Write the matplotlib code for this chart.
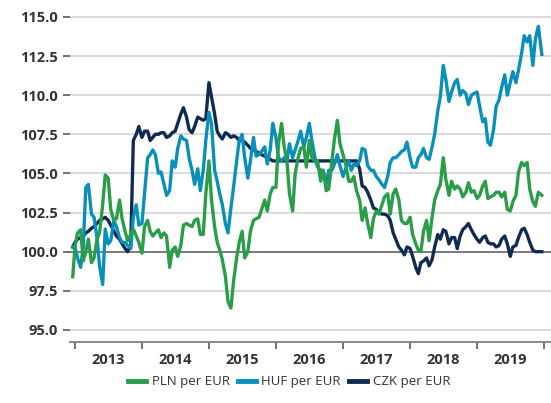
import numpy as np
import pandas as pd
import matplotlib
matplotlib.use("Agg")
import matplotlib.pyplot as plt
import matplotlib.dates as mdates
from matplotlib.ticker import NullFormatter, FixedLocator

# half-monthly readings (1st / 15th), index with start = 100
dates = [pd.Timestamp("2012-12-20")] + \
    list(pd.date_range("2013-01-01", "2019-12-01", freq="SMS")) + \
    [pd.Timestamp("2019-12-20")]

pln = [98.4,
       100.3, 101.2, 101.4, 99.4, 100.0, 100.8, 99.3, 99.6, 100.8, 101.2, 103.0, 104.9,
       104.7, 102.7, 102.0, 102.1, 103.3, 102.1, 101.3, 100.7, 101.1, 101.45, 101.0, 100.6,
       99.9, 101.6, 102.0, 101.3, 101.0, 101.2, 101.4, 100.9, 101.2, 101.0, 99.0, 100.1,
       100.3, 99.7, 100.4, 101.7, 101.8, 101.7, 101.6, 102.0, 102.1, 101.1, 101.1, 103.7,
       105.8, 103.3, 101.6, 100.6, 100.1, 99.5, 98.4, 96.8, 96.4, 98.1, 99.6, 100.6,
       101.3, 99.6, 100.0, 101.3, 102.0, 102.1, 102.2, 102.7, 103.3, 102.6, 103.7, 104.1,
       104.1, 106.9, 108.2, 106.7, 105.8, 103.7, 102.6, 105.0, 106.0, 106.6, 106.7, 105.4,
       107.1, 106.0, 105.8, 105.8, 104.5, 105.2, 103.9, 104.0, 105.8, 107.2, 108.4, 106.9,
       106.2, 105.6, 104.5, 104.5, 104.8, 103.9, 103.3, 102.0, 102.8, 101.8, 100.9, 102.1,
       102.6, 102.4, 103.0, 103.5, 103.7, 102.4, 103.7, 104.0, 103.3, 102.0, 101.8, 101.8,
       102.2, 101.1, 100.5, 100.1, 100.0, 101.3, 102.0, 100.7, 102.2, 103.3, 103.9, 104.3,
       106.0, 104.6, 103.6, 104.5, 104.0, 104.2, 104.0, 103.5, 103.8, 104.4, 103.8, 103.9,
       103.4, 103.6, 104.2, 104.5, 103.4, 103.5, 103.6, 103.8, 103.8, 103.5, 103.8, 102.7,
       102.6, 103.2, 103.6, 105.1, 105.7, 105.5, 105.7, 104.0, 103.2, 102.9, 103.8, 103.6]

huf = [100.3,
       100.3, 99.6, 99.0, 100.3, 104.1, 104.3, 102.4, 102.2, 100.9, 99.1, 97.9, 101.45,
       100.5, 100.7, 102.0, 101.6, 100.9, 100.6, 100.6, 100.4, 100.2, 102.2, 103.0, 101.7,
       101.8, 103.7, 106.0, 106.2, 106.5, 106.2, 105.0, 105.1, 104.3, 103.6, 103.9, 105.8,
       105.4, 106.6, 107.4, 107.2, 107.1, 106.0, 105.2, 104.3, 105.3, 103.9, 105.2, 107.1,
       108.9, 108.2, 105.2, 104.5, 103.7, 103.0, 101.8, 101.2, 102.8, 104.1, 105.8, 107.1,
       107.5, 106.0, 104.7, 105.8, 107.3, 106.1, 106.2, 106.4, 106.7, 105.6, 106.5, 108.2,
       107.3, 106.0, 105.8, 106.0, 105.8, 106.9, 106.0, 106.5, 107.1, 107.7, 106.7, 107.3,
       108.2, 107.1, 106.0, 105.4, 105.2, 105.2, 104.3, 105.2, 105.2, 105.6, 106.2, 105.5,
       104.8, 105.3, 105.8, 105.2, 105.6, 105.5, 105.8, 106.6, 106.5, 105.5, 105.2, 105.2,
       104.8, 104.6, 104.3, 104.1, 104.8, 105.7, 106.0, 106.0, 106.2, 106.4, 106.5, 107.0,
       106.0, 105.4, 105.4, 106.0, 106.2, 106.6, 106.0, 105.9, 106.7, 107.5, 109.0, 109.9,
       111.9, 111.0, 109.6, 110.2, 110.8, 111.0, 110.0, 110.3, 110.1, 109.4, 110.0, 110.1,
       110.2, 109.3, 108.3, 108.5, 107.0, 106.8, 107.8, 109.3, 109.7, 110.5, 111.3, 110.0,
       110.8, 111.5, 110.8, 111.6, 112.7, 113.8, 113.4, 113.8, 111.9, 113.6, 114.4, 112.6]

czk = [100.3,
       100.6, 100.8, 100.9, 101.0, 101.2, 101.3, 101.5, 101.6, 101.8, 102.0, 102.1, 102.2,
       102.0, 101.7, 101.3, 101.0, 100.8, 100.5, 100.2, 100.0, 100.4, 107.1, 107.5, 108.0,
       107.3, 107.7, 107.7, 107.1, 107.3, 107.5, 107.5, 107.6, 107.6, 107.3, 107.4, 107.6,
       107.7, 108.2, 108.8, 109.2, 108.6, 107.8, 107.6, 108.0, 108.6, 108.5, 108.4, 108.5,
       110.8, 109.9, 108.8, 107.7, 107.4, 107.2, 107.6, 107.5, 107.3, 107.4, 107.3, 107.1,
       107.1, 107.0, 106.8, 106.6, 106.5, 106.4, 106.3, 106.2, 106.1, 106.0, 105.9, 105.8,
       105.8, 105.8, 105.8, 105.8, 105.8, 105.8, 105.8, 105.8, 105.8, 105.8, 105.8, 105.8,
       105.8, 105.8, 105.8, 105.8, 105.8, 105.8, 105.8, 105.8, 105.8, 105.8, 105.8, 105.8,
       105.8, 105.8, 105.8, 105.8, 105.8, 105.8, 105.3, 104.2, 104.1, 103.8, 103.3, 102.8,
       102.7, 102.5, 102.4, 102.4, 102.3, 102.0, 101.2, 100.8, 100.3, 100.1, 99.8, 100.3,
       100.2, 99.7, 99.0, 98.6, 99.3, 99.4, 99.6, 99.1, 99.5, 100.3, 101.1, 100.8,
       101.4, 101.3, 100.5, 100.9, 100.9, 100.2, 101.0, 101.4, 101.6, 101.8, 101.4, 101.1,
       100.8, 100.6, 100.9, 101.0, 100.6, 100.5, 100.5, 100.3, 100.4, 100.8, 101.0, 100.5,
       99.7, 100.3, 100.4, 100.9, 101.4, 101.5, 101.1, 100.6, 100.1, 100.0, 100.0, 100.0]

series_names = ["PLN per EUR", "HUF per EUR", "CZK per EUR"]
colors = ["#2a9d48", "#0a8fbb", "#0f2b52"]
years = list(range(2013, 2020))
yticks = [95.0, 97.5, 100.0, 102.5, 105.0, 107.5, 110.0, 112.5, 115.0]

plt.rcParams['font.family'] = ['Open Sans', 'DejaVu Sans']

fig = plt.figure(figsize=(5.51, 4.03), dpi=100)
ax = fig.add_axes([70 / 551, 61 / 403, 481 / 551, 342 / 403])

for y in yticks:
    c = "#7a7a7a" if y == 100.0 else "#dadada"
    ax.axhline(y, color=c, lw=1.4, zorder=0)

# CZK underneath, PLN on top
ax.plot(dates, czk, color=colors[2], lw=2.4, zorder=2, label=series_names[2])
ax.plot(dates, huf, color=colors[1], lw=2.4, zorder=3, label=series_names[1])
ax.plot(dates, pln, color=colors[0], lw=2.4, zorder=4, label=series_names[0])

ax.set_ylim(94.23, 116.08)
ax.set_xlim(pd.Timestamp("2012-12-05"), pd.Timestamp("2020-02-08"))
ax.set_yticks(yticks)
ax.set_yticklabels([f"{v:.1f}" for v in yticks])

ax.xaxis.set_major_locator(FixedLocator(mdates.date2num([pd.Timestamp(f"{y}-01-01") for y in years + [2020]])))
ax.xaxis.set_major_formatter(NullFormatter())
ax.set_xticks(mdates.date2num([pd.Timestamp(f"{y}-07-02") for y in years]), minor=True)
ax.set_xticklabels([str(y) for y in years], minor=True)

for s in ["top", "right", "left"]:
    ax.spines[s].set_visible(False)
ax.spines["bottom"].set_color("#8a8a8a")
ax.spines["bottom"].set_linewidth(1.4)

ax.tick_params(axis="y", length=5, width=1.3, color="#666666", pad=4,
               labelsize=10.5, labelcolor="#333333")
ax.tick_params(axis="x", which="major", length=5, width=1.3, color="#666666")
ax.tick_params(axis="x", which="minor", length=0, pad=8, labelsize=10.5, labelcolor="#333333")
for t in ax.get_yticklabels() + ax.get_xticklabels(minor=True):
    t.set_fontweight("bold")

h, l = ax.get_legend_handles_labels()
order = [2, 1, 0]
leg = fig.legend([h[i] for i in order], [l[i] for i in order], loc="center",
                 bbox_to_anchor=(289 / 551, 21 / 403), ncol=3, frameon=False,
                 fontsize=9.5, handlelength=1.4, handletextpad=0.4, columnspacing=0.6)
for line in leg.get_lines():
    line.set_linewidth(3.5)
for t in leg.get_texts():
    t.set_color("#333333")

fig.savefig("out.png", dpi=100)
